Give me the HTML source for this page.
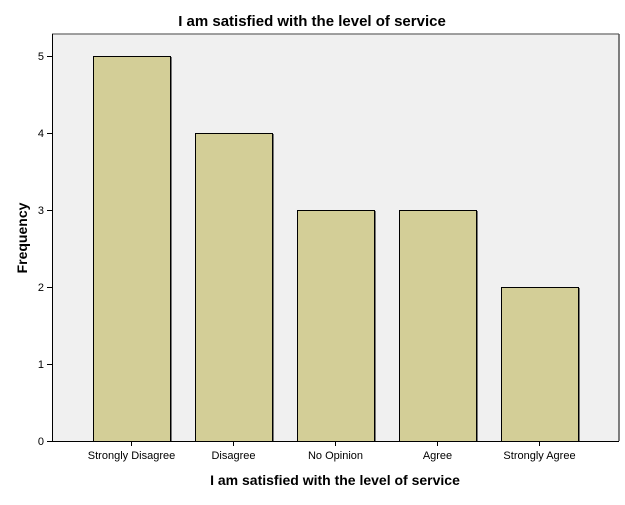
<!DOCTYPE html>
<html><head><meta charset="utf-8"><style>
body{margin:0;background:#fff;font-family:"Liberation Sans",Arial,sans-serif}
svg text{font-family:"Liberation Sans",Arial,sans-serif}
</style></head><body>
<svg id="c" width="625" height="500"></svg>
<script>
const categories=["Strongly Disagree","Disagree","No Opinion","Agree","Strongly Agree"];
const values=[5,4,3,3,2];
const yTicks=[0,1,2,3,4,5];
const NS="http://www.w3.org/2000/svg";
const svg=document.getElementById('c');
const L=52,R=619,T=34,B=441;
const y=v=>B-v*77;
const x=i=>93+i*102;
const bw=77;
function mk(tag,attrs,name,txt){const e=document.createElementNS(NS,tag);for(const k in attrs)e.setAttribute(k,attrs[k]);


if(txt!==undefined)e.textContent=txt;svg.appendChild(e);return e;}
mk('rect',{x:L,y:T,width:R-L,height:B-T,fill:'#f0f0f0'},'plot-area');
mk('line',{x1:L,y1:T,x2:R,y2:T,stroke:'#808080','stroke-width':1.5},'plot-border-top');
mk('line',{x1:R,y1:T,x2:R,y2:B,stroke:'#555','stroke-width':1.5},'plot-border-right');
values.forEach((v,i)=>{
 mk('rect',{x:x(i)+0.5,y:y(v)+0.5,width:bw,height:B-y(v),fill:'#d3ce97',stroke:'#000','stroke-width':1},'bar-'+i);
 mk('line',{x1:x(i)+bw+1.5,y1:y(v)+1,x2:x(i)+bw+1.5,y2:B,stroke:'#777','stroke-width':1},'bar-shadow-'+i);
 mk('line',{x1:x(i)+bw/2,y1:B,x2:x(i)+bw/2,y2:B+5,stroke:'#000'},'x-tick-'+i);
 mk('text',{x:x(i)+bw/2,y:B+18,'font-size':11,'text-anchor':'middle',fill:'#000'},'x-tick-label',categories[i]);
});
mk('line',{x1:L+0.5,y1:T,x2:L+0.5,y2:B,stroke:'#000'},'y-axis');
mk('line',{x1:L,y1:B+0.5,x2:R,y2:B+0.5,stroke:'#000'},'x-axis');
yTicks.forEach(t=>{
 mk('line',{x1:L-5,y1:y(t)+0.5,x2:L,y2:y(t)+0.5,stroke:'#000'},'y-tick');
 mk('text',{x:L-8,y:y(t)+4,'font-size':11,'text-anchor':'end',fill:'#000'},'y-tick-label',t);
});
mk('text',{x:312,y:26,'font-size':15,'font-weight':'bold','text-anchor':'middle'},'chart-title','I am satisfied with the level of service');
mk('text',{x:335,y:485,'font-size':14,'font-weight':'bold','text-anchor':'middle'},'x-axis-title','I am satisfied with the level of service');
mk('text',{x:27,y:238,'font-size':14,'font-weight':'bold','text-anchor':'middle',transform:'rotate(-90 27 238)'},'y-axis-title','Frequency');
</script>
</body></html>
